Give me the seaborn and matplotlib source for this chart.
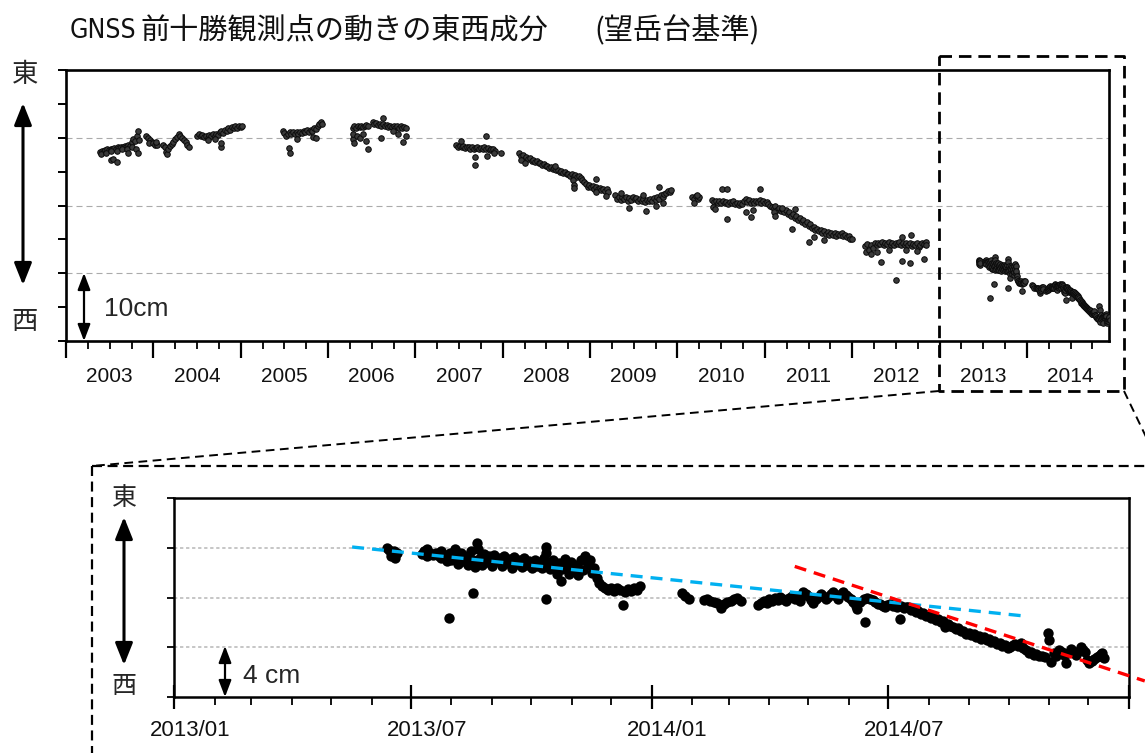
import numpy as np
import pandas as pd
import matplotlib
matplotlib.use("Agg")
import matplotlib.pyplot as plt
import matplotlib.transforms as mtransforms
from matplotlib import font_manager as fm
from matplotlib.lines import Line2D
from matplotlib.patches import FancyArrowPatch
import seaborn as sns

# ---------------------------------------------------------------------------
# East-west component of GNSS station Maetokachi (relative to Bogakudai), cm
# (decimal year, cm) readings grouped by period
# ---------------------------------------------------------------------------
obs_2003 = [
    (2003.39, 27.9), (2003.41, 28.1), (2003.43, 28.0), (2003.45, 28.2), (2003.47, 28.3),
    (2003.49, 28.2), (2003.51, 28.4), (2003.53, 28.3), (2003.55, 28.5), (2003.57, 28.4),
    (2003.59, 28.6), (2003.61, 28.5), (2003.63, 28.7), (2003.65, 28.6), (2003.67, 28.8),
    (2003.69, 28.7), (2003.71, 29.0), (2003.73, 28.8), (2003.75, 29.3), (2003.77, 29.8),
    (2003.79, 29.5), (2003.81, 30.2), (2003.83, 29.7),
    (2003.40, 27.6), (2003.46, 27.8), (2003.52, 28.0), (2003.58, 28.1), (2003.64, 28.3),
    (2003.70, 28.4), (2003.76, 28.6), (2003.80, 28.3), (2003.82, 31.0), (2003.82, 27.8),
    (2003.71, 27.8), (2003.52, 26.7), (2003.54, 26.8), (2003.58, 26.4),
    (2003.92, 30.3), (2003.94, 30.0), (2003.96, 29.6), (2003.98, 29.3), (2003.95, 29.2),
]
obs_2004 = [
    (2004.00, 29.2), (2004.02, 29.0), (2004.04, 28.9), (2004.03, 29.4),
    (2004.11, 28.9), (2004.13, 28.6), (2004.15, 27.9), (2004.16, 27.6), (2004.17, 28.4),
    (2004.19, 28.8), (2004.21, 29.1), (2004.23, 29.4), (2004.25, 29.8), (2004.27, 30.1),
    (2004.29, 30.6), (2004.31, 30.2), (2004.33, 29.9), (2004.35, 29.7), (2004.37, 29.3),
    (2004.39, 29.0), (2004.41, 28.6),
    (2004.50, 30.3), (2004.52, 30.5), (2004.54, 30.2), (2004.56, 30.4), (2004.58, 30.1),
    (2004.60, 30.3), (2004.62, 30.0), (2004.64, 30.4), (2004.66, 30.2), (2004.68, 30.5),
    (2004.70, 30.3), (2004.72, 30.6), (2004.74, 30.4), (2004.76, 30.8), (2004.78, 31.0),
    (2004.80, 30.7), (2004.82, 31.2), (2004.84, 31.0), (2004.86, 31.4), (2004.88, 31.2),
    (2004.90, 31.6), (2004.92, 31.4), (2004.94, 31.7), (2004.96, 31.5), (2004.98, 31.8),
    (2004.62, 29.7), (2004.70, 29.8), (2004.78, 28.7), (2004.78, 29.2),
]
obs_2005 = [
    (2005.00, 31.6), (2005.02, 31.7),
    (2005.48, 31.0), (2005.50, 30.7), (2005.52, 30.3), (2005.54, 30.5), (2005.56, 30.8),
    (2005.58, 30.6), (2005.60, 30.9), (2005.62, 30.6), (2005.64, 30.8), (2005.66, 30.5),
    (2005.68, 30.9), (2005.70, 30.7), (2005.72, 31.0), (2005.74, 30.8), (2005.76, 31.1),
    (2005.78, 30.9), (2005.80, 31.2), (2005.82, 31.0), (2005.84, 31.5), (2005.86, 31.3),
    (2005.88, 31.8), (2005.90, 32.0), (2005.92, 32.3), (2005.93, 32.1),
    (2005.55, 28.5), (2005.56, 27.8), (2005.64, 29.8), (2005.83, 30.1), (2005.86, 29.9),
]
obs_2006 = [
    (2006.28, 31.5), (2006.30, 31.7), (2006.32, 31.5), (2006.34, 31.8), (2006.36, 31.6),
    (2006.38, 31.8), (2006.40, 31.6), (2006.42, 31.7), (2006.44, 31.9), (2006.46, 31.8),
    (2006.28, 29.8), (2006.29, 30.6), (2006.30, 29.2), (2006.33, 30.2), (2006.36, 29.9),
    (2006.40, 30.5), (2006.43, 29.5), (2006.46, 28.4),
    (2006.51, 32.3), (2006.53, 32.0), (2006.55, 32.2), (2006.57, 31.9), (2006.59, 32.1),
    (2006.61, 31.8), (2006.63, 32.0), (2006.65, 31.7), (2006.67, 31.9), (2006.69, 31.6),
    (2006.71, 31.8), (2006.73, 31.6), (2006.75, 31.8), (2006.77, 31.5), (2006.79, 31.7),
    (2006.81, 31.5), (2006.83, 31.7), (2006.85, 31.4), (2006.87, 31.6), (2006.89, 31.5),
    (2006.63, 32.9), (2006.61, 30.0), (2006.74, 31.0), (2006.80, 30.6), (2006.86, 29.3),
    (2006.89, 30.3),
]
obs_2007 = [
    (2007.47, 28.9), (2007.49, 28.7), (2007.51, 28.8), (2007.53, 28.6), (2007.55, 28.8),
    (2007.57, 28.5), (2007.59, 28.7), (2007.61, 28.6), (2007.63, 28.4), (2007.65, 28.6),
    (2007.67, 28.3), (2007.69, 28.5), (2007.71, 28.6), (2007.73, 28.3), (2007.75, 28.5),
    (2007.77, 28.4), (2007.79, 28.6), (2007.81, 28.3), (2007.83, 28.5), (2007.85, 28.2),
    (2007.87, 28.4), (2007.89, 28.3), (2007.91, 28.1), (2007.98, 27.7),
    (2007.52, 29.5), (2007.81, 30.3), (2007.68, 26.0), (2007.68, 27.2), (2007.82, 27.3),
    (2007.90, 27.8),
]
obs_2008 = [
    (2008.19, 27.7), (2008.21, 27.3), (2008.23, 27.5), (2008.25, 26.9), (2008.27, 27.2),
    (2008.29, 26.8), (2008.31, 27.0), (2008.33, 26.6), (2008.35, 26.7), (2008.37, 26.4),
    (2008.39, 26.5), (2008.41, 26.2), (2008.43, 26.3), (2008.45, 26.0), (2008.47, 26.1),
    (2008.49, 25.8), (2008.51, 25.9), (2008.53, 25.6), (2008.55, 25.7), (2008.57, 25.4),
    (2008.59, 25.5), (2008.61, 25.2), (2008.63, 25.3), (2008.65, 25.0), (2008.67, 25.1),
    (2008.69, 24.8), (2008.71, 24.9), (2008.73, 24.6), (2008.75, 24.7), (2008.77, 24.4),
    (2008.79, 24.6), (2008.81, 24.3), (2008.83, 24.5), (2008.85, 24.2), (2008.87, 24.3),
    (2008.89, 24.0), (2008.91, 23.7), (2008.93, 23.4), (2008.95, 23.1), (2008.97, 22.8),
    (2008.99, 23.0),
    (2008.21, 26.7), (2008.25, 26.3), (2008.60, 25.9), (2008.80, 23.7), (2008.82, 23.0),
    (2008.82, 22.6),
]
obs_2009 = [
    (2009.01, 22.7), (2009.03, 22.9), (2009.05, 22.5), (2009.07, 22.7), (2009.09, 22.4),
    (2009.11, 22.6), (2009.13, 22.3), (2009.15, 22.5), (2009.17, 22.2), (2009.19, 22.4),
    (2009.21, 22.0), (2009.07, 23.9), (2009.07, 22.0), (2009.18, 21.4),
    (2009.29, 21.5), (2009.31, 21.0), (2009.33, 21.3), (2009.35, 20.8), (2009.37, 21.2),
    (2009.39, 20.9), (2009.41, 21.3), (2009.43, 20.7), (2009.45, 21.1), (2009.47, 20.8),
    (2009.49, 21.2), (2009.51, 20.9), (2009.53, 21.1), (2009.55, 20.7), (2009.57, 21.0),
    (2009.59, 20.6), (2009.61, 20.9), (2009.63, 20.5), (2009.65, 20.8), (2009.67, 20.6),
    (2009.69, 21.0), (2009.71, 20.7), (2009.73, 21.1), (2009.75, 20.8), (2009.77, 21.3),
    (2009.79, 21.0), (2009.81, 21.5), (2009.83, 21.2), (2009.85, 21.7), (2009.87, 21.9),
    (2009.89, 22.2), (2009.91, 22.0), (2009.93, 22.3),
    (2009.45, 19.6), (2009.64, 19.2), (2009.75, 20.0), (2009.83, 20.3), (2009.79, 22.8),
    (2009.35, 21.9), (2009.60, 21.5),
]
obs_2010 = [
    (2010.17, 21.3), (2010.19, 21.0), (2010.21, 21.4), (2010.23, 20.9), (2010.25, 21.2),
    (2010.19, 20.4), (2010.22, 21.6),
    (2010.40, 20.8), (2010.42, 20.5), (2010.44, 20.7), (2010.46, 20.3), (2010.48, 20.6),
    (2010.50, 20.4), (2010.52, 20.7), (2010.54, 20.3), (2010.56, 20.5), (2010.58, 20.2),
    (2010.60, 20.5), (2010.62, 20.3), (2010.64, 20.6), (2010.66, 20.2), (2010.68, 20.4),
    (2010.70, 20.1), (2010.72, 20.4), (2010.74, 20.2), (2010.76, 20.6), (2010.78, 20.9),
    (2010.80, 20.5), (2010.82, 20.8), (2010.84, 20.4), (2010.86, 20.6), (2010.88, 20.3),
    (2010.90, 20.7), (2010.92, 20.5), (2010.94, 20.8), (2010.96, 20.4), (2010.98, 20.6),
    (2010.41, 19.8), (2010.43, 19.5), (2010.51, 22.5), (2010.57, 22.4), (2010.57, 18.0),
    (2010.84, 18.3), (2010.95, 22.5), (2010.78, 19.0), (2010.87, 19.3),
]
obs_2011 = [
    (2011.00, 20.3), (2011.02, 20.5), (2011.04, 20.2), (2011.06, 20.0), (2011.08, 19.8),
    (2011.10, 19.7), (2011.12, 19.9), (2011.14, 19.4), (2011.16, 19.6), (2011.18, 19.2),
    (2011.20, 19.5), (2011.22, 19.0), (2011.24, 19.3), (2011.26, 18.8), (2011.28, 19.0),
    (2011.30, 18.5), (2011.32, 18.7), (2011.34, 18.2), (2011.36, 18.4), (2011.38, 17.9),
    (2011.40, 18.1), (2011.42, 17.6), (2011.44, 17.8), (2011.46, 17.3), (2011.48, 17.5),
    (2011.50, 17.0), (2011.52, 17.2), (2011.54, 16.7), (2011.56, 16.9), (2011.58, 16.4),
    (2011.60, 16.6), (2011.62, 16.2), (2011.64, 16.4), (2011.66, 16.0), (2011.68, 16.2),
    (2011.70, 15.8), (2011.72, 16.1), (2011.74, 15.7), (2011.76, 16.0), (2011.78, 15.6),
    (2011.80, 15.9), (2011.82, 15.5), (2011.84, 15.8), (2011.86, 15.6), (2011.88, 15.9),
    (2011.90, 15.5), (2011.92, 15.7), (2011.94, 15.3), (2011.96, 15.5), (2011.98, 15.1),
    (2011.31, 16.6), (2011.50, 14.6), (2011.56, 15.3), (2011.68, 14.9), (2011.35, 19.5),
    (2011.20, 19.6), (2011.10, 19.0), (2011.12, 18.4),
]
obs_2012 = [
    (2012.00, 15.0), (2012.15, 14.0), (2012.16, 13.2), (2012.17, 14.3), (2012.19, 13.5),
    (2012.21, 12.8), (2012.22, 14.1), (2012.24, 13.7), (2012.26, 14.4), (2012.28, 14.2),
    (2012.30, 14.5), (2012.32, 14.3), (2012.34, 14.6), (2012.36, 14.2), (2012.38, 14.5),
    (2012.40, 14.3), (2012.42, 14.6), (2012.44, 14.2), (2012.46, 14.4), (2012.48, 14.1),
    (2012.50, 14.5), (2012.52, 14.3), (2012.54, 14.6), (2012.56, 14.2), (2012.58, 14.4),
    (2012.60, 14.1), (2012.62, 14.5), (2012.64, 14.2), (2012.66, 14.4), (2012.68, 14.0),
    (2012.70, 14.3), (2012.72, 14.1), (2012.74, 14.4), (2012.76, 13.9), (2012.78, 14.2),
    (2012.80, 14.5), (2012.82, 14.3), (2012.84, 14.6), (2012.85, 14.2),
    (2012.33, 11.7), (2012.57, 11.8), (2012.66, 11.5), (2012.82, 12.1), (2012.50, 9.0),
    (2012.67, 15.7), (2012.57, 15.3), (2012.42, 13.4), (2012.62, 13.5), (2012.74, 13.3),
    (2012.28, 13.1),
]
obs_2013 = [
    (2013.447, 12.0), (2013.451, 11.8), (2013.456, 11.6), (2013.461, 11.75), (2013.455, 11.35),
    (2013.462, 11.2), (2013.466, 11.55),
    (2013.519, 11.5), (2013.524, 11.75), (2013.530, 11.9), (2013.536, 11.6), (2013.542, 11.45),
    (2013.548, 11.6), (2013.554, 11.35), (2013.530, 11.3),
    (2013.560, 11.7), (2013.560, 11.2), (2013.568, 11.45), (2013.571, 10.9), (2013.578, 11.6),
    (2013.581, 11.05), (2013.588, 11.9), (2013.592, 11.3), (2013.595, 10.7), (2013.602, 11.55),
    (2013.606, 10.9), (2013.613, 11.35), (2013.616, 10.6), (2013.623, 11.7), (2013.626, 11.0),
    (2013.630, 10.45), (2013.634, 12.35), (2013.636, 11.9), (2013.640, 11.2), (2013.644, 10.6),
    (2013.650, 11.5), (2013.655, 10.85), (2013.660, 11.3), (2013.665, 10.5), (2013.670, 11.45),
    (2013.676, 10.9), (2013.681, 11.2), (2013.686, 10.55), (2013.692, 11.35), (2013.697, 10.8),
    (2013.702, 11.1), (2013.707, 10.4), (2013.712, 11.25), (2013.718, 10.7), (2013.723, 11.0),
    (2013.728, 10.45), (2013.734, 11.15), (2013.739, 10.65), (2013.744, 10.95), (2013.749, 10.35),
    (2013.755, 11.05), (2013.760, 10.55), (2013.765, 10.85), (2013.770, 10.4), (2013.775, 11.15),
    (2013.779, 12.1), (2013.780, 11.6), (2013.783, 10.7), (2013.788, 10.3), (2013.793, 11.0),
    (2013.798, 10.5), (2013.803, 9.9), (2013.806, 10.8), (2013.810, 9.3), (2013.813, 10.3),
    (2013.818, 11.1), (2013.822, 10.6), (2013.827, 9.9), (2013.832, 10.85), (2013.837, 10.3),
    (2013.843, 10.6), (2013.847, 9.8), (2013.852, 11.0), (2013.856, 10.2), (2013.861, 11.3),
    (2013.866, 10.6), (2013.871, 11.0), (2013.876, 10.0), (2013.880, 10.4), (2013.885, 9.6),
    (2013.890, 9.2), (2013.896, 8.9), (2013.902, 8.8), (2013.909, 8.6), (2013.915, 8.75),
    (2013.922, 8.55), (2013.928, 8.8), (2013.934, 8.6), (2013.941, 7.4), (2013.945, 8.45),
    (2013.951, 8.65), (2013.957, 8.5), (2013.963, 8.8), (2013.969, 8.6), (2013.975, 8.9),
    (2013.576, 6.32), (2013.627, 8.39), (2013.779, 7.85),
]
obs_2014 = [
    (2014.063, 8.33), (2014.070, 8.1), (2014.078, 7.85),
    (2014.109, 7.8), (2014.116, 7.85), (2014.123, 7.75), (2014.130, 7.65), (2014.137, 7.55),
    (2014.145, 7.15), (2014.152, 7.45), (2014.159, 7.6), (2014.166, 7.75), (2014.173, 7.9),
    (2014.180, 7.95), (2014.187, 7.7),
    (2014.224, 7.4), (2014.230, 7.55), (2014.236, 7.7), (2014.241, 7.55), (2014.247, 7.85),
    (2014.252, 7.7), (2014.258, 8.0), (2014.264, 7.8), (2014.270, 8.05), (2014.276, 7.9),
    (2014.282, 7.75), (2014.288, 7.95), (2014.294, 8.1), (2014.300, 7.85), (2014.306, 8.15),
    (2014.312, 7.75), (2014.318, 8.45), (2014.323, 8.25), (2014.328, 8.1), (2014.334, 7.8),
    (2014.339, 7.55), (2014.344, 7.9), (2014.349, 8.05), (2014.354, 8.3), (2014.360, 8.15),
    (2014.365, 7.85), (2014.370, 8.05), (2014.376, 8.3), (2014.381, 8.45), (2014.386, 8.1),
    (2014.391, 7.85), (2014.396, 8.25), (2014.402, 8.45), (2014.407, 8.2), (2014.412, 8.05),
    (2014.417, 7.85), (2014.423, 7.65), (2014.428, 7.3), (2014.431, 7.1), (2014.437, 7.6),
    (2014.444, 7.85), (2014.447, 6.05), (2014.452, 7.95), (2014.458, 7.9), (2014.463, 7.8),
    (2014.468, 7.65), (2014.474, 7.5), (2014.479, 7.45), (2014.484, 7.3), (2014.489, 7.25),
    (2014.494, 7.4), (2014.499, 7.5), (2014.505, 7.35), (2014.510, 7.4), (2014.515, 7.2),
    (2014.520, 6.3), (2014.523, 7.3), (2014.528, 7.15), (2014.533, 7.25), (2014.538, 7.2),
    (2014.543, 7.0), (2014.548, 7.05), (2014.553, 6.85), (2014.559, 6.95), (2014.564, 6.7),
    (2014.569, 6.75), (2014.574, 6.55), (2014.580, 6.6), (2014.585, 6.35), (2014.590, 6.45),
    (2014.595, 6.2), (2014.601, 6.3), (2014.606, 6.05), (2014.611, 6.1), (2014.615, 5.65),
    (2014.620, 5.86), (2014.626, 5.7), (2014.631, 5.65), (2014.637, 5.45), (2014.642, 5.52),
    (2014.648, 5.3), (2014.653, 5.33), (2014.658, 5.1), (2014.664, 5.11), (2014.670, 4.95),
    (2014.675, 5.06), (2014.680, 4.8), (2014.686, 4.9), (2014.691, 4.7), (2014.696, 4.79),
    (2014.702, 4.55), (2014.707, 4.63), (2014.712, 4.4), (2014.718, 4.52), (2014.724, 4.25),
    (2014.729, 4.36), (2014.735, 4.1), (2014.740, 4.17), (2014.746, 3.95), (2014.751, 3.99),
    (2014.757, 4.2), (2014.762, 4.26), (2014.768, 4.1), (2014.773, 4.36), (2014.779, 3.9),
    (2014.784, 3.77), (2014.790, 3.55), (2014.795, 3.64), (2014.801, 3.4), (2014.806, 3.45),
    (2014.812, 3.3), (2014.817, 3.29), (2014.824, 3.2), (2014.830, 5.11), (2014.833, 4.58),
    (2014.837, 2.84), (2014.842, 3.51), (2014.848, 3.3), (2014.853, 3.77), (2014.859, 3.6),
    (2014.864, 3.37), (2014.868, 2.70), (2014.873, 3.5), (2014.878, 3.83), (2014.884, 3.6),
    (2014.889, 3.37), (2014.895, 3.7), (2014.900, 3.99), (2014.904, 3.75), (2014.908, 3.64),
    (2014.913, 3.0), (2014.917, 2.70), (2014.922, 2.9), (2014.926, 3.02), (2014.932, 3.2),
    (2014.937, 3.29), (2014.941, 3.45), (2014.944, 3.51), (2014.948, 3.10),
]

# trend lines drawn over the 2013-2014 detail (decimal year, cm)
trend_before_year = [2013.373, 2014.784]
trend_before_cm = [12.06, 6.50]
trend_after_year = [2014.300, 2015.033]
trend_after_cm = [10.50, 1.29]

year_labels = [str(y) for y in range(2003, 2015)]
detail_labels = ["2013/01", "2013/07", "2014/01", "2014/07"]

title_head = "GNSS"
title_body = "前十勝観測点の動きの東西成分"
title_tail = "(望岳台基準)"

# ---------------------------------------------------------------------------
sns.set_style("white")
plt.rcParams["font.family"] = ["Liberation Sans", "Noto Sans CJK JP", "DejaVu Sans"]
CJK = ["Noto Sans CJK JP", "DejaVu Sans"]


def has_font(name):
    try:
        fm.findfont(fm.FontProperties(family=name), fallback_to_default=False)
        return True
    except Exception:
        return False


narrow_family = "Liberation Sans Narrow" if has_font("Liberation Sans Narrow") else "DejaVu Sans"

W, H = 1145, 753
fig = plt.figure(figsize=(W / 100, H / 100), dpi=100)


def fx(x):
    return x / W


def fy(y):
    return 1 - y / H


def frame(df):
    return pd.DataFrame(df, columns=["year", "cm"])


history = pd.concat([frame(d) for d in (obs_2003, obs_2004, obs_2005, obs_2006, obs_2007,
                                        obs_2008, obs_2009, obs_2010, obs_2011, obs_2012)],
                    ignore_index=True)
recent = pd.concat([frame(obs_2013), frame(obs_2014)], ignore_index=True)
full = pd.concat([history, recent], ignore_index=True)

# ----------------------------- overview panel ------------------------------
ax = fig.add_axes([fx(66), fy(341), (1109 - 66) / W, (341 - 70) / H])
ax.set_xlim(2003.0, 2014.94)
ax.set_ylim(0, 40)
for yv in (10, 20, 30):
    ax.axhline(yv, color="#ababab", lw=0.8, linestyle=(0, (5.4, 3.6)), zorder=1)
sns.scatterplot(data=full, x="year", y="cm", ax=ax, s=16, color="#3a3a3a",
                edgecolor="#0a0a0a", linewidth=0.7, legend=False, zorder=3)
ax.set_xlabel("")
ax.set_ylabel("")
ax.set_xticks(np.arange(2003, 2015))
ax.set_xticks(np.arange(2003, 2014.95, 0.25), minor=True)
ax.set_yticks(np.arange(0, 41, 5))
ax.tick_params(axis="x", which="major", direction="out", length=12, width=1.6,
               labelbottom=False, color="black", bottom=True)
ax.tick_params(axis="x", which="minor", direction="out", length=6, width=1.3,
               color="black", bottom=True)
ax.tick_params(axis="y", which="major", direction="out", length=6, width=1.4,
               labelleft=False, color="black", left=True)
for sp in ax.spines.values():
    sp.set_color("black")
    sp.set_linewidth(1.9)
for i, lab in enumerate(year_labels):
    ax.text(2003 + i + 0.5, -35 / 271, lab, transform=ax.get_xaxis_transform(),
            ha="center", va="center", fontsize=15, color="#111111")

# ------------------------------ detail panel -------------------------------
axd = fig.add_axes([fx(174), fy(697), (1129 - 174) / W, (697 - 498) / H])
axd.set_xlim(2013.0, 2015.0)
axd.set_ylim(0, 16)
for yv in (4, 8, 12):
    axd.axhline(yv, color="#c6c6c6", lw=1.4, linestyle=(0, (1.7, 1.4)), zorder=1)


def dec_year(ts):
    days = 366 if ts.is_leap_year else 365
    return ts.year + (ts.dayofyear - 1) / days


months = pd.date_range("2013-01-01", "2015-01-01", freq="MS")
month_pos = [dec_year(m) for m in months]
major_pos = [dec_year(m) for m in months if m.month in (1, 7)]
axd.set_xticks(major_pos)
axd.set_xticks(month_pos, minor=True)
axd.set_yticks([0, 4, 8, 12, 16])
axd.tick_params(axis="x", which="major", direction="inout", length=17, width=1.6,
                labelbottom=False, color="black", bottom=True)
axd.tick_params(axis="x", which="minor", direction="out", length=6, width=1.3,
                color="black", bottom=True)
axd.tick_params(axis="y", which="major", direction="out", length=5, width=1.3,
                labelleft=False, color="black", left=True)
for sp in axd.spines.values():
    sp.set_color("black")
    sp.set_linewidth(1.8)

sns.scatterplot(data=recent, x="year", y="cm", ax=axd, s=56, color="black",
                linewidth=0, legend=False, zorder=3)
sns.lineplot(x=trend_before_year, y=trend_before_cm, ax=axd, color="#00b0f0", lw=2.4,
             linestyle=(0, (3.6, 2.4)), errorbar=None, zorder=4)
sns.lineplot(x=trend_after_year, y=trend_after_cm, ax=axd, color="#ff0000", lw=2.4,
             linestyle=(0, (3.6, 2.4)), errorbar=None, zorder=4, clip_on=False)
axd.set_xlabel("")
axd.set_ylabel("")
label_tr = mtransforms.offset_copy(axd.get_xaxis_transform(), fig=fig, x=16, y=0, units="dots")
for pos, lab in zip(major_pos, detail_labels):
    axd.text(pos, -33 / 199, lab, transform=label_tr, ha="center", va="center",
             fontsize=16, color="#111111")

# ------------------------------ annotations --------------------------------
fig.text(fx(70), fy(31), title_head, ha="left", va="center", fontsize=19,
         family=[narrow_family, "DejaVu Sans"], fontstretch="condensed", color="#111111")
fig.text(fx(140), fy(31), title_body, ha="left", va="center", fontsize=21,
         family=CJK, color="#111111")
fig.text(fx(594), fy(31), title_tail, ha="left", va="center", fontsize=21,
         family=CJK, color="#111111")

fig.text(fx(25), fy(75), "東", ha="center", va="center", fontsize=19, family=CJK)
fig.text(fx(25), fy(321), "西", ha="center", va="center", fontsize=19, family=CJK)
fig.text(fx(124), fy(498), "東", ha="center", va="center", fontsize=18, family=CJK)
fig.text(fx(124), fy(686), "西", ha="center", va="center", fontsize=18, family=CJK)
fig.text(fx(104), fy(309), "10cm", ha="left", va="center", fontsize=19)
fig.text(fx(243), fy(676), "4 cm", ha="left", va="center", fontsize=19)


def vert_arrow(x, y0, y1, scale, lw, hl, hw):
    arr = FancyArrowPatch((fx(x), fy(y0)), (fx(x), fy(y1)), transform=fig.transFigure,
                          arrowstyle=f"<|-|>,head_length={hl},head_width={hw}",
                          mutation_scale=scale, lw=lw, color="black",
                          shrinkA=0, shrinkB=0)
    fig.add_artist(arr)


vert_arrow(23, 103, 285, 14, 2.2, 0.95, 0.38)
vert_arrow(124, 517, 665, 14, 2.2, 0.95, 0.38)
vert_arrow(84, 273, 341, 10, 1.6, 1.0, 0.38)
vert_arrow(225, 646, 697, 10, 1.6, 1.0, 0.38)


def fig_line(xs, ys, lw, style):
    fig.add_artist(Line2D([fx(x) for x in xs], [fy(y) for y in ys], transform=fig.transFigure,
                          color="black", lw=lw, linestyle=style, zorder=10))


# zoom window over the last two years and its link to the detail frame
fig_line([939, 1124, 1124, 939, 939], [56, 56, 391, 391, 56], 2.0, (0, (4.5, 2.5)))
fig_line([939, 92], [391, 466], 1.4, (0, (4.5, 2.8)))
fig_line([1124, 1160], [391, 466], 1.4, (0, (4.5, 2.8)))
fig_line([92, 1170], [466, 466], 1.6, (0, (4.5, 2.5)))
fig_line([92, 92], [466, 770], 1.6, (0, (4.5, 2.5)))

fig.savefig("out.png", dpi=100)
